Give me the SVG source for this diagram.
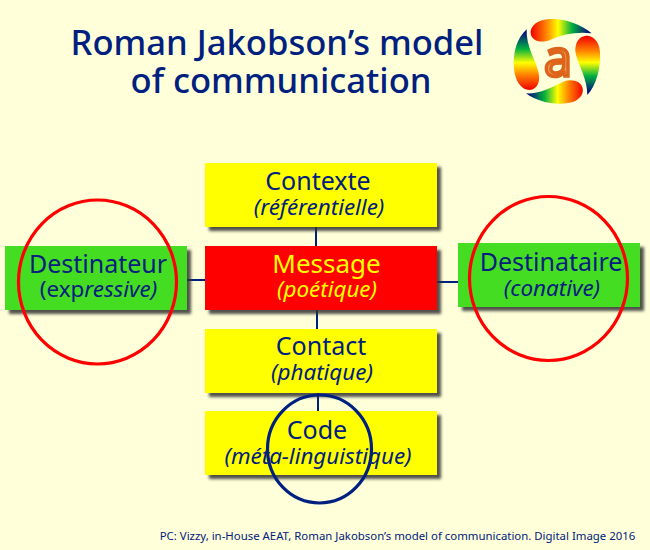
<svg xmlns="http://www.w3.org/2000/svg" width="650" height="550" viewBox="0 0 650 550">
<style>
text{font-family:"Noto Sans","Open Sans","DejaVu Sans",sans-serif;fill:#00207f;text-anchor:middle}
.t{font-size:34.6px;font-weight:500}
.m{font-size:25px}
.s{font-size:22.4px;font-style:italic}
.y{fill:#ffff00}
.u{font-style:normal}
.box{filter:url(#sh)}
.c{stroke:#00207f;stroke-width:2;fill:none}
.e{fill:none;stroke-width:3.2}
</style>
<defs>
<filter id="sh" x="-10%" y="-20%" width="125%" height="145%"><feDropShadow dx="4" dy="4" stdDeviation="1.8" flood-color="#333" flood-opacity="0.85"/></filter>
<linearGradient id="gT" gradientUnits="userSpaceOnUse" x1="92" y1="0" x2="275" y2="0"><stop offset="0" stop-color="#f00000"/><stop offset=".25" stop-color="#ff8000"/><stop offset=".45" stop-color="#ffff00"/><stop offset=".68" stop-color="#00b040"/><stop offset=".95" stop-color="#00107f"/></linearGradient>
<linearGradient id="gB" gradientUnits="userSpaceOnUse" x1="78" y1="0" x2="250" y2="0"><stop offset=".05" stop-color="#00107f"/><stop offset=".32" stop-color="#00b040"/><stop offset=".55" stop-color="#ffff00"/><stop offset=".75" stop-color="#ff8000"/><stop offset="1" stop-color="#f00000"/></linearGradient>
<linearGradient id="gR" gradientUnits="userSpaceOnUse" x1="0" y1="78" x2="0" y2="255"><stop offset="0" stop-color="#f00000"/><stop offset=".25" stop-color="#ff8000"/><stop offset=".45" stop-color="#ffff00"/><stop offset=".68" stop-color="#00b040"/><stop offset=".95" stop-color="#00107f"/></linearGradient>
<linearGradient id="gL" gradientUnits="userSpaceOnUse" x1="0" y1="58" x2="0" y2="240"><stop offset=".05" stop-color="#00107f"/><stop offset=".32" stop-color="#00b040"/><stop offset=".55" stop-color="#ffff00"/><stop offset=".75" stop-color="#ff8000"/><stop offset="1" stop-color="#f00000"/></linearGradient>
</defs>
<rect width="650" height="550" fill="#ffffd9"/>
<g id="title"><text class="t" x="277" y="55">Roman Jakobson’s model</text><text class="t" x="281" y="93">of communication</text></g>
<g id="logo">
<g transform="translate(500 10) scale(.3333)">
<path fill="url(#gT)" d="M275 70C240 40 190 25 150 27C110 28 90 50 92 70C95 95 125 100 150 90C190 72 230 65 275 70Z"/>
<path fill="url(#gR)" d="M262 255C290 225 303 170 300 125C297 90 275 75 255 78C230 82 222 110 228 135C240 175 262 210 262 255Z"/>
<path fill="url(#gB)" d="M78 250C110 275 160 285 200 280C235 277 252 255 248 235C243 212 215 205 190 215C150 235 115 252 78 250Z"/>
<path fill="url(#gL)" d="M80 58C50 85 38 130 42 175C45 215 65 240 88 240C115 238 122 210 115 185C105 145 78 110 80 58Z"/>
</g>
<text x="558" y="76" style="font-size:50px;fill:#ee9a58;stroke:#dd641a;stroke-width:3.4">a</text>
</g>
<g id="connectors">
<path class="c" d="M316 227V246M317 310V329M318 393V411M187 280H205M437 282H458"/>
</g>
<g id="contexte"><rect class="box" x="205" y="163" width="232" height="64" fill="#ffff00"/><text class="m" x="318" y="190">Contexte</text><text class="s" x="319" y="215">(référentielle)</text></g>
<g id="message"><rect class="box" x="205" y="246" width="232" height="64" fill="#ff0000"/><text class="m y" x="326.5" y="272.5" style="font-size:26px">Message</text><text class="s y" x="327" y="297">(poétique)</text></g>
<g id="contact"><rect class="box" x="205" y="329" width="232" height="64" fill="#ffff00"/><text class="m" x="321" y="355">Contact</text><text class="s" x="322" y="380">(phatique)</text></g>
<g id="code"><rect class="box" x="205" y="411" width="232" height="64" fill="#ffff00"/><text class="m" x="317" y="439">Code</text><text class="s" x="318" y="464">(méta-linguistique)</text></g>
<g id="destinateur"><rect class="box" x="5" y="246" width="182" height="64" fill="#44dd22"/><text class="m" x="98" y="272.5">Destinateur</text><text class="s" x="98.5" y="297"><tspan class="u">(exp</tspan>ressive)</text></g>
<g id="destinataire"><rect class="box" x="458" y="243" width="182" height="64" fill="#44dd22"/><text class="m" x="551" y="271">Destinataire</text><text class="s" x="552" y="296">(conative)</text></g>
<g id="rings">
<ellipse class="e" cx="97.5" cy="282" rx="79" ry="82" stroke="#ff0000"/>
<ellipse class="e" cx="548.5" cy="278.5" rx="79" ry="82" stroke="#ff0000"/>
<ellipse class="e" cx="319.5" cy="449" rx="52" ry="54" stroke="#00207f"/>
</g>
<text x="397.5" y="540" style="font-size:11.4px">PC: Vizzy, in-House AEAT, Roman Jakobson’s model of communication. Digital Image 2016</text>
</svg>
